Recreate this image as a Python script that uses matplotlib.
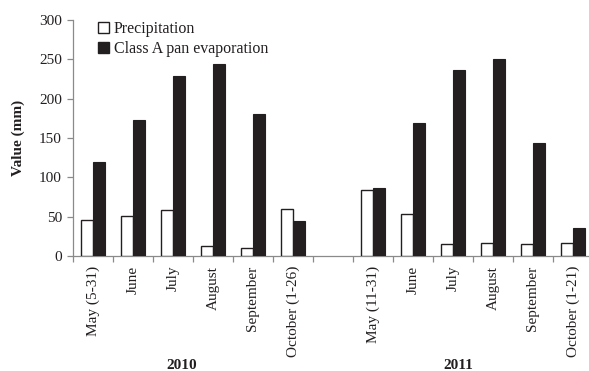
import numpy as np
import matplotlib
matplotlib.use("Agg")
import matplotlib.pyplot as plt
from matplotlib.patches import Rectangle

plt.rcParams['font.family'] = ['Liberation Serif', 'DejaVu Serif']

# data
months_2010 = ['May (5-31)', 'June', 'July', 'August', 'September', 'October (1-26)']
months_2011 = ['May (11-31)', 'June', 'July', 'August', 'September', 'October (1-21)']
precip_2010 = [46, 51, 58, 13, 10, 60]
evap_2010 = [120, 173, 229, 244, 181, 44]
precip_2011 = [84, 53, 15, 16, 15, 16]
evap_2011 = [86, 169, 236, 251, 144, 35]
years = ['2010', '2011']

INK = '#231f20'
AXIS = '#8a8a8a'

# one empty slot between the two years
centers = np.r_[np.arange(6) + 0.5, np.arange(6) + 7.5]
labels = months_2010 + months_2011
precip = precip_2010 + precip_2011
evap = evap_2010 + evap_2011
w = 0.29

fig = plt.figure(figsize=(5.89, 3.71), dpi=100)
ax = fig.add_axes([73/589, 1 - 256/371, 520/589, 236/371])

ax.bar(centers - w/2, precip, width=w, color='white', edgecolor=INK, linewidth=1.0, zorder=3)
ax.bar(centers + w/2, evap, width=w, color=INK, edgecolor=INK, linewidth=0.8, zorder=3)

ax.set_xlim(0, 13)
ax.set_ylim(0, 300)
ax.set_yticks(np.arange(0, 301, 50))
ax.set_xticks(np.arange(0, 14))
ax.set_xticklabels([])
ax.set_xticks(centers, minor=True)
ax.set_xticklabels(labels, minor=True, rotation=90, va='top', fontsize=11, color=INK)
ax.tick_params(axis='x', which='minor', length=0, pad=7)
ax.tick_params(axis='both', which='major', length=4.5, width=0.9, color=AXIS,
               labelsize=11, labelcolor=INK, direction='out')

for s in ['top', 'right']:
    ax.spines[s].set_visible(False)
for s in ['left', 'bottom']:
    ax.spines[s].set_color(AXIS)
    ax.spines[s].set_linewidth(0.9)

ax.set_ylabel('Value (mm)', fontsize=11, fontweight='bold', color=INK, labelpad=10)

# year labels under each group
ax.text(2.71, -0.465, years[0], transform=ax.get_xaxis_transform(), ha='center', va='center',
        fontsize=11, fontweight='bold', color=INK)
ax.text(9.63, -0.465, years[1], transform=ax.get_xaxis_transform(), ha='center', va='center',
        fontsize=11, fontweight='bold', color=INK)

handles = [Rectangle((0, 0), 1, 1, facecolor='white', edgecolor=INK, linewidth=1.0),
           Rectangle((0, 0), 1, 1, facecolor=INK, edgecolor=INK)]
ax.legend(handles, ['Precipitation', 'Class A pan evaporation'], loc='upper left',
          bbox_to_anchor=(0.02, 1.055), frameon=False, fontsize=11.5,
          handlelength=0.7, handleheight=0.7, handletextpad=0.3, labelspacing=0.25,
          labelcolor=INK)

fig.savefig('out.png', dpi=100)
